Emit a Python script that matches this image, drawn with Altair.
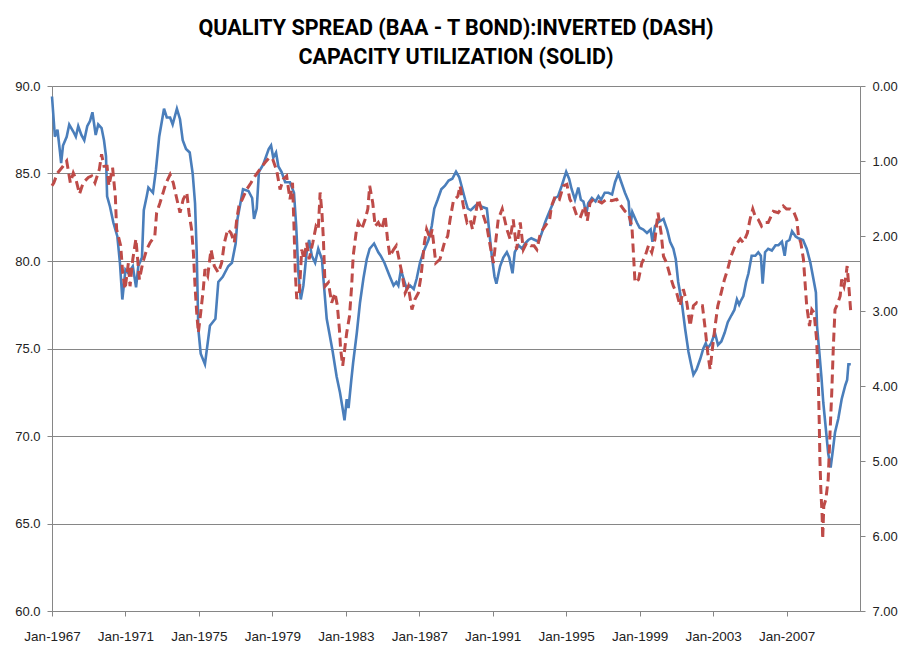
import altair as alt
import pandas as pd

# Capacity utilization (solid, left axis) - decimal year, value
cu_years = [1967.0,1967.16,1967.3,1967.44,1967.5,1967.6,1967.8,1967.94,1968.16,1968.3,1968.43,1968.6,1968.76,1968.92,1969.07,1969.2,1969.38,1969.52,1969.7,1969.83,1969.94,1970.0,1970.16,1970.34,1970.56,1970.7,1970.83,1971.0,1971.16,1971.4,1971.58,1971.7,1971.9,1972.0,1972.16,1972.25,1972.5,1972.66,1972.84,1973.1,1973.25,1973.43,1973.57,1973.8,1973.97,1974.12,1974.3,1974.5,1974.66,1974.79,1974.88,1974.97,1975.1,1975.33,1975.6,1975.9,1976.06,1976.3,1976.6,1976.8,1977.0,1977.1,1977.4,1977.7,1977.9,1978.0,1978.15,1978.27,1978.5,1978.8,1978.93,1979.05,1979.2,1979.33,1979.5,1979.7,1979.96,1980.18,1980.3,1980.42,1980.55,1980.69,1980.87,1981.0,1981.15,1981.33,1981.5,1981.7,1981.78,1981.96,1982.1,1982.29,1982.5,1982.68,1982.87,1982.93,1983.05,1983.15,1983.3,1983.4,1983.6,1983.77,1983.96,1984.14,1984.3,1984.54,1984.77,1984.9,1985.1,1985.4,1985.6,1985.75,1985.86,1986.0,1986.2,1986.32,1986.5,1986.7,1986.86,1987.04,1987.22,1987.5,1987.68,1987.82,1988.0,1988.2,1988.4,1988.6,1988.8,1989.0,1989.17,1989.3,1989.5,1989.64,1989.8,1990.0,1990.2,1990.4,1990.68,1990.8,1990.95,1991.1,1991.2,1991.4,1991.58,1991.77,1991.9,1992.08,1992.2,1992.4,1992.6,1992.76,1992.94,1993.1,1993.3,1993.5,1993.67,1993.85,1994.0,1994.2,1994.4,1994.56,1994.76,1995.0,1995.16,1995.3,1995.48,1995.66,1995.8,1995.94,1996.1,1996.2,1996.4,1996.6,1996.76,1996.9,1997.1,1997.3,1997.5,1997.66,1997.84,1998.0,1998.2,1998.4,1998.5,1998.6,1998.85,1999.0,1999.2,1999.4,1999.6,1999.7,1999.84,2000.0,2000.3,2000.5,2000.66,2000.84,2000.97,2001.1,2001.3,2001.48,2001.66,2001.8,2001.93,2002.1,2002.3,2002.47,2002.6,2002.7,2002.9,2003.1,2003.27,2003.45,2003.63,2003.8,2004.0,2004.16,2004.3,2004.42,2004.5,2004.65,2004.8,2004.93,2005.1,2005.3,2005.46,2005.6,2005.7,2005.83,2006.0,2006.2,2006.4,2006.56,2006.75,2006.9,2007.0,2007.16,2007.3,2007.5,2007.65,2007.9,2008.1,2008.3,2008.46,2008.6,2008.66,2008.77,2008.9,2009.0,2009.14,2009.27,2009.4,2009.5,2009.64,2009.82,2010.0,2010.2,2010.3,2010.37,2010.5]
cu_values = [89.4,87.1,87.5,86.2,85.6,86.6,87.1,87.8,87.4,87.1,87.7,87.2,86.9,87.7,88.0,88.5,87.2,87.8,87.6,86.9,86.0,83.7,83.1,82.2,81.4,79.9,77.8,79.5,79.3,79.7,78.5,79.7,80.2,82.9,83.7,84.2,83.9,85.2,87.1,88.7,88.2,88.2,87.8,88.7,88.1,86.9,86.4,86.2,85.0,83.3,80.5,76.1,74.7,74.1,76.3,76.7,78.8,79.1,79.7,79.9,81.0,82.4,84.1,84.0,83.6,82.4,83.0,85.1,85.5,86.4,86.6,85.9,86.2,85.4,85.1,84.5,84.5,83.9,82.0,79.3,77.8,78.6,80.5,81.2,80.3,79.9,80.7,80.1,79.0,76.7,75.9,74.8,73.4,72.5,71.3,70.9,72.1,71.6,73.2,74.2,75.9,77.6,79.0,80.1,80.7,81.0,80.5,80.3,79.9,79.1,78.6,78.8,78.6,79.5,78.8,78.4,78.6,78.4,79.0,79.9,80.5,81.2,82.0,83.0,83.5,84.1,84.3,84.6,84.7,85.1,84.8,84.3,83.5,83.0,82.9,83.1,83.3,83.1,83.0,81.8,80.3,79.1,78.7,79.7,80.2,80.5,80.2,79.3,80.5,80.9,80.7,81.0,81.2,81.3,81.2,81.1,81.6,82.2,82.6,83.1,83.6,83.7,84.3,85.1,84.7,84.1,83.5,84.2,83.5,83.4,82.7,83.3,83.6,83.4,83.7,83.5,83.9,83.9,83.8,84.5,85.0,84.5,83.9,83.4,82.0,82.8,82.2,81.9,81.8,81.6,81.8,81.1,82.0,82.2,82.4,81.8,81.1,80.7,80.1,78.8,77.6,76.1,74.8,74.1,73.5,73.8,74.4,75.0,75.3,75.0,75.3,75.9,75.2,75.4,75.9,76.5,76.9,77.2,77.8,77.5,77.7,78.0,78.8,79.3,80.3,80.3,80.5,80.3,78.7,80.5,80.7,80.6,80.9,80.9,81.1,80.3,81.1,81.2,81.7,81.4,81.3,81.2,80.7,79.9,79.0,78.2,76.3,75.0,73.4,71.9,70.4,69.0,68.2,69.0,70.2,71.0,72.1,72.9,73.2,74.1,74.1]

# Quality spread BAA - T bond (dashed, right axis inverted)
qs_years = [1967.0,1967.1,1967.3,1967.6,1967.8,1968.0,1968.16,1968.3,1968.5,1968.7,1968.98,1969.16,1969.34,1969.58,1969.7,1969.83,1970.0,1970.1,1970.3,1970.45,1970.52,1970.74,1970.85,1970.98,1971.16,1971.25,1971.4,1971.57,1971.76,1971.94,1972.16,1972.34,1972.6,1972.7,1972.88,1973.2,1973.43,1973.6,1973.8,1973.97,1974.15,1974.34,1974.46,1974.6,1974.7,1974.79,1974.88,1974.97,1975.1,1975.24,1975.33,1975.48,1975.66,1975.84,1976.06,1976.24,1976.39,1976.57,1976.75,1976.93,1977.06,1977.18,1977.36,1977.6,1977.84,1978.06,1978.33,1978.6,1978.82,1979.0,1979.24,1979.42,1979.6,1979.78,1979.96,1980.1,1980.18,1980.25,1980.33,1980.47,1980.6,1980.72,1980.87,1981.0,1981.2,1981.38,1981.5,1981.6,1981.7,1981.78,1981.87,1982.05,1982.23,1982.41,1982.54,1982.65,1982.72,1982.83,1982.96,1983.05,1983.2,1983.32,1983.4,1983.56,1983.68,1983.87,1984.05,1984.2,1984.3,1984.47,1984.6,1984.77,1984.96,1985.14,1985.27,1985.4,1985.6,1985.75,1985.9,1986.05,1986.23,1986.4,1986.6,1986.77,1986.95,1987.1,1987.28,1987.4,1987.6,1987.7,1987.9,1988.13,1988.37,1988.55,1988.68,1988.86,1989.1,1989.22,1989.4,1989.6,1989.77,1989.9,1990.04,1990.22,1990.44,1990.68,1990.86,1991.04,1991.18,1991.3,1991.52,1991.77,1991.95,1992.12,1992.3,1992.5,1992.67,1992.85,1993.07,1993.25,1993.4,1993.6,1993.85,1994.1,1994.2,1994.4,1994.63,1994.85,1995.04,1995.2,1995.4,1995.58,1995.76,1996.0,1996.15,1996.3,1996.48,1996.7,1996.94,1997.2,1997.48,1997.75,1997.99,1998.2,1998.4,1998.58,1998.66,1998.75,1998.94,1999.12,1999.3,1999.48,1999.66,1999.84,2000.0,2000.17,2000.3,2000.47,2000.66,2000.84,2001.02,2001.2,2001.38,2001.57,2001.75,2001.93,2002.11,2002.3,2002.42,2002.57,2002.71,2002.84,2002.96,2003.11,2003.26,2003.44,2003.62,2003.8,2003.98,2004.2,2004.48,2004.65,2004.87,2005.01,2005.16,2005.28,2005.46,2005.64,2005.83,2006.0,2006.28,2006.55,2006.82,2007.0,2007.2,2007.38,2007.56,2007.65,2007.78,2007.92,2008.01,2008.1,2008.25,2008.38,2008.5,2008.64,2008.73,2008.78,2008.82,2008.87,2008.94,2008.97,2009.03,2009.14,2009.27,2009.36,2009.46,2009.55,2009.64,2009.77,2009.92,2010.0,2010.13,2010.24,2010.3,2010.42,2010.5]
qs_values = [1.33,1.29,1.16,1.07,1.0,1.29,1.16,1.24,1.44,1.29,1.22,1.2,1.29,1.11,0.91,1.07,1.07,1.33,1.09,1.47,1.91,2.13,2.49,2.71,2.36,2.67,2.31,2.04,2.58,2.36,2.18,2.09,2.0,1.69,1.56,1.3,1.18,1.29,1.51,1.69,1.51,1.42,1.69,1.91,2.22,2.67,3.02,3.29,3.02,2.71,2.44,2.53,2.18,2.4,2.49,2.36,2.09,1.91,1.96,2.09,1.78,1.6,1.51,1.38,1.29,1.2,1.11,1.02,0.96,0.96,1.13,1.38,1.24,1.2,1.51,1.29,1.87,2.49,2.84,2.76,2.18,2.31,2.09,2.31,2.09,1.87,1.91,1.42,1.69,2.04,2.67,2.62,2.89,2.76,2.93,3.24,3.51,3.73,3.47,3.29,3.07,2.67,2.27,1.96,1.82,1.91,1.78,1.64,1.33,1.56,1.87,1.82,1.91,1.73,2.04,2.27,2.18,2.13,2.31,2.49,2.76,2.67,2.98,2.84,2.76,2.53,2.09,1.91,2.04,1.91,2.36,2.31,2.09,2.0,1.78,1.53,1.47,1.33,1.6,1.82,1.78,1.91,1.73,1.51,1.69,1.87,2.13,2.36,2.04,1.78,1.64,1.91,2.04,1.78,2.18,1.82,2.18,2.09,2.13,2.13,2.18,1.96,1.87,1.78,1.6,1.47,1.51,1.33,1.31,1.51,1.6,1.73,1.76,1.6,1.8,1.56,1.51,1.53,1.56,1.51,1.53,1.51,1.6,1.67,1.71,1.87,2.22,2.62,2.58,2.36,2.27,2.13,2.22,2.04,1.69,1.96,2.27,2.36,2.53,2.67,2.76,2.93,2.71,2.89,3.2,2.93,2.89,2.93,2.93,3.24,3.56,3.78,3.51,3.2,2.93,2.76,2.58,2.44,2.27,2.13,2.04,2.09,1.96,1.78,1.64,1.73,1.78,1.87,1.82,1.82,1.67,1.69,1.6,1.64,1.64,1.67,1.78,2.0,2.09,2.31,2.62,2.93,3.2,2.98,3.02,3.38,3.91,4.44,4.98,5.38,5.73,6.04,5.6,5.51,5.24,4.67,4.09,3.47,2.98,2.91,2.8,2.58,2.67,2.53,2.4,2.76,3.02]

tick_years = [1967, 1971, 1975, 1979, 1983, 1987, 1991, 1995, 1999, 2003, 2007]
left_ticks = [60, 65, 70, 75, 80, 85, 90]
right_ticks = [0, 1, 2, 3, 4, 5, 6, 7]


def to_date(y):
    base = pd.Timestamp(year=int(y), month=1, day=1)
    return (base + pd.Timedelta(days=(y - int(y)) * 365.25)).strftime("%Y-%m-%d")


cu_df = pd.DataFrame({"date": [to_date(y) for y in cu_years], "cu": cu_values})
qs_df = pd.DataFrame({"date": [to_date(y) for y in qs_years], "qs": qs_values})

GRAY = "#868686"
FONT = "Liberation Sans"

x_enc = alt.X(
    "date:T",
    scale=alt.Scale(type="utc", domain=["1967-01-01", "2011-01-01"]),
    axis=alt.Axis(
        title=None,
        values=[alt.DateTime(year=y, month=1, date=1, utc=True) for y in tick_years],
        format="%b-%Y",
        grid=False,
        domainColor=GRAY,
        tickColor=GRAY,
        tickSize=5,
        labelPadding=13,
        labelFontSize=13.5,
        labelColor="#222222",
        labelFont=FONT,
        labelOverlap=False,
        labelFlush=False,
    ),
)

cu_line = alt.Chart(cu_df).mark_line(color="#4A7EBB", strokeWidth=2.6).encode(
    x=x_enc,
    y=alt.Y(
        "cu:Q",
        scale=alt.Scale(domain=[60, 90], nice=False, zero=False),
        axis=alt.Axis(
            title=None,
            orient="left",
            values=left_ticks,
            format=".1f",
            grid=True,
            gridColor=GRAY,
            gridOpacity=1,
            domainColor=GRAY,
            tickColor=GRAY,
            tickSize=5,
            labelPadding=7,
            labelFontSize=13,
            labelColor="#222222",
            labelFont=FONT,
        ),
    ),
)

qs_line = alt.Chart(qs_df).mark_line(
    color="#BE4B48", strokeWidth=3, strokeDash=[9, 5]
).encode(
    x=x_enc,
    y=alt.Y(
        "qs:Q",
        scale=alt.Scale(domain=[0, 7], reverse=True, nice=False, zero=False),
        axis=alt.Axis(
            title=None,
            orient="right",
            values=right_ticks,
            format=".2f",
            grid=False,
            domainColor=GRAY,
            tickColor=GRAY,
            tickSize=5,
            labelPadding=7,
            labelFontSize=13,
            labelColor="#222222",
            labelFont=FONT,
        ),
    ),
)

chart = (
    alt.layer(cu_line, qs_line)
    .resolve_scale(y="independent")
    .properties(
        width=808,
        height=525,
        autosize=alt.AutoSizeParams(type="none"),
        padding={"left": 44, "top": 78, "right": 45, "bottom": 44},
        title=alt.TitleParams(
            text=["QUALITY SPREAD (BAA - T BOND):INVERTED (DASH)", "CAPACITY UTILIZATION (SOLID)"],
            font="Roboto",
            fontSize=21.5,
            fontWeight="bold",
            color="#000000",
            anchor="middle",
            frame="group",
            lineHeight=29,
            offset=12,
        ),
    )
    .configure_view(stroke=None)
    .configure(background="white")
)

chart.save("out.html", embed_options={"renderer": "svg", "actions": False})
